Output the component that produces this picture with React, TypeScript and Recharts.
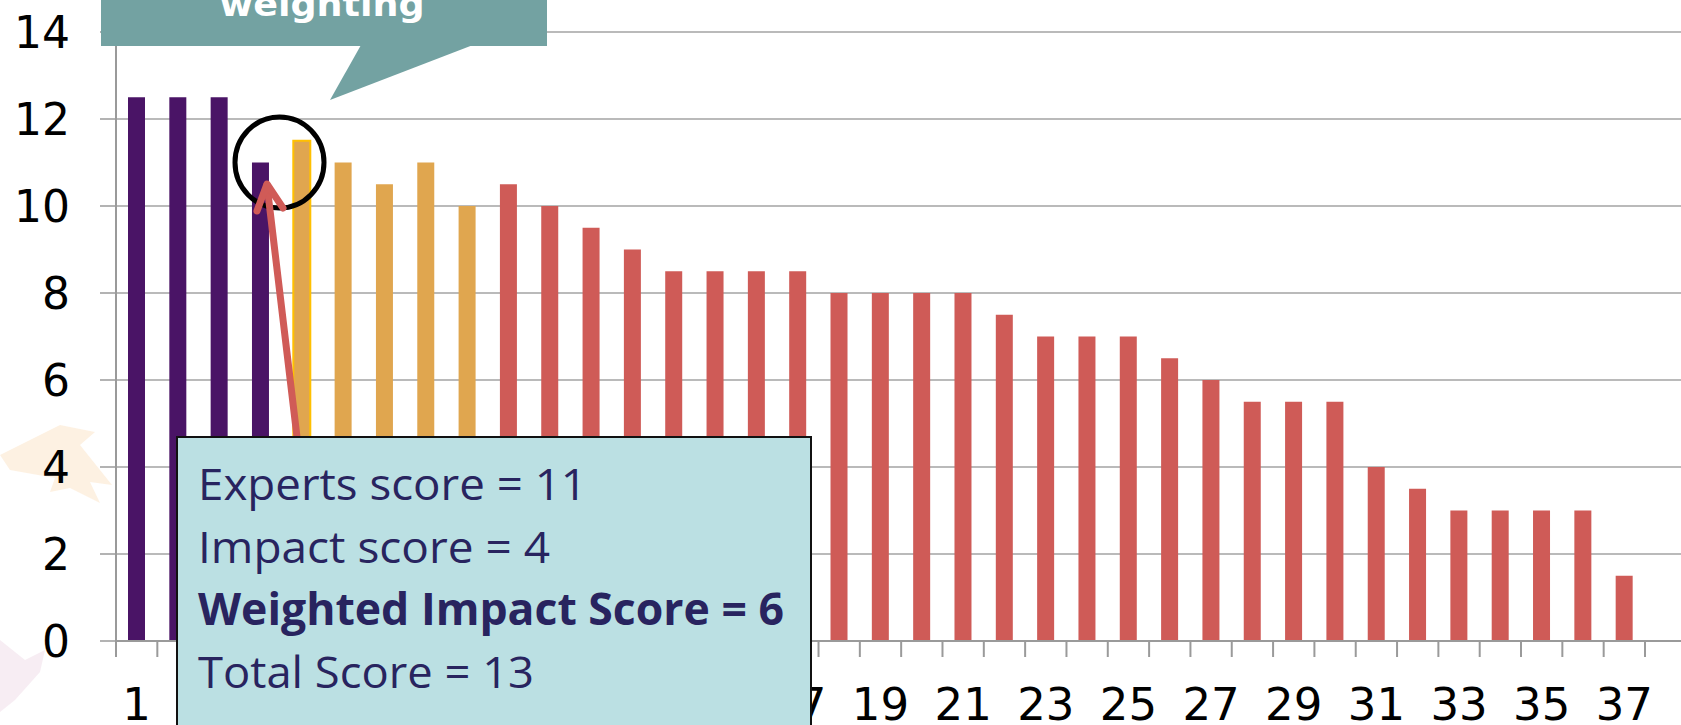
import React from "react";
import { BarChart, Bar, XAxis, YAxis, CartesianGrid, Cell } from "recharts";

// issue rank along the axis
const ranks = [
  "1", "2", "3", "4", "5", "6", "7", "8", "9", "10",
  "11", "12", "13", "14", "15", "16", "17", "18", "19", "20",
  "21", "22", "23", "24", "25", "26", "27", "28", "29", "30",
  "31", "32", "33", "34", "35", "36", "37",
];

// total score of each issue
const scores = [
  12.5, 12.5, 12.5, 11, 11.5, 11, 10.5, 11, 10, 10.5,
  10, 9.5, 9, 8.5, 8.5, 8.5, 8.5, 8, 8, 8,
  8, 7.5, 7, 7, 7, 6.5, 6, 5.5, 5.5, 5.5,
  4, 3.5, 3, 3, 3, 3, 1.5,
];

// which band each issue falls in
const tiers = [
  "top", "top", "top", "top", "mid", "mid", "mid", "mid", "mid", "low",
  "low", "low", "low", "low", "low", "low", "low", "low", "low", "low",
  "low", "low", "low", "low", "low", "low", "low", "low", "low", "low",
  "low", "low", "low", "low", "low", "low", "low",
];

const yTicks = [0, 2, 4, 6, 8, 10, 12, 14];
const highlighted = "5";

const infoLines = [
  { text: "Experts score = 11", bold: false, width: 389 },
  { text: "Impact score = 4", bold: false, width: 352 },
  { text: "Weighted Impact Score = 6", bold: true, width: 586 },
  { text: "Total Score = 13", bold: false, width: 336 },
];

const tierColors: Record<string, string> = {
  top: "#4A1466",
  mid: "#E0A64F",
  low: "#CF5B57",
};

const data = ranks.map((r, i) => ({ rank: r, score: scores[i], tier: tiers[i] }));

const W = 1700;
const H = 725;
const LEFT = 116;
const RIGHT = 14;
const PAD_RIGHT = 41;
const BAND = (W - LEFT - RIGHT - PAD_RIGHT) / ranks.length;
const AXIS_GREY = "#9a9a9a";

const XTick = (props: any) => {
  const { x, y, payload, index } = props;
  const left = x - BAND / 2;
  const n = Number(payload.value);
  return (
    <g>
      <line x1={left} x2={left} y1={y} y2={y + 16} stroke={AXIS_GREY} strokeWidth={2} />
      {index === ranks.length - 1 && (
        <line x1={left + BAND} x2={left + BAND} y1={y} y2={y + 16} stroke={AXIS_GREY} strokeWidth={2} />
      )}
      {n % 2 === 1 && (
        <text x={x} y={y + 79} textAnchor="middle" fontSize={45} fill="#000" fontFamily="DejaVu Sans">
          {payload.value}
        </text>
      )}
    </g>
  );
};

const Overlay = () => (
  <svg width={1681} height={725} style={{ position: "absolute", left: 0, top: 0, pointerEvents: "none" }}>
    {/* callout */}
    <rect x={101} y={-20} width={446} height={66} fill="#73A2A2" />
    <polygon points="361,45 473,45 330,100" fill="#73A2A2" />
    <text x={322} y={16} textAnchor="middle" fontSize={34} fontWeight="bold" fill="#fff"
      fontFamily="DejaVu Sans" textLength={205} lengthAdjust="spacingAndGlyphs">
      weighting
    </text>
    {/* circle round bar 4 */}
    <ellipse cx={279.5} cy={162.5} rx={44.5} ry={45.5} fill="none" stroke="#000" strokeWidth={5} />
    {/* arrow */}
    <g stroke="#D05B57" strokeWidth={7} strokeLinecap="round" strokeLinejoin="round" fill="none">
      <line x1={297} y1={437} x2={267} y2={185} />
      <polyline points="257,211 267,184 283,208" />
    </g>
    {/* info box */}
    <rect x={177} y={437} width={634} height={300} fill="#BBE0E3" stroke="#111" strokeWidth={2} />
    {infoLines.map((l, i) => (
      <text key={l.text} x={198} y={500 + i * 62.5} fontSize={44} fill="#28245F"
        fontWeight={l.bold ? "bold" : "normal"} fontFamily="Open Sans"
        textLength={l.width} lengthAdjust="spacingAndGlyphs">
        {l.text}
      </text>
    ))}
  </svg>
);

const Watermark = () => (
  <svg width={130} height={725} style={{ position: "absolute", left: 0, top: 0, pointerEvents: "none" }}>
    <polygon points="0,455 30,440 60,425 95,432 80,445 112,485 90,482 100,503 70,488 50,492 55,478 10,470"
      fill="#FCEBD6" opacity={0.7} />
    <polygon points="0,640 25,660 45,650 40,672 15,700 0,712" fill="#F3E6EE" opacity={0.7} />
  </svg>
);

export default function App() {
  return (
    <div style={{ position: "absolute", left: 0, top: 0, width: 1681, height: 725, overflow: "hidden", background: "#fff" }}>
      <Watermark />
      <div style={{ position: "absolute", left: 0, top: 0 }}>
        <BarChart width={W} height={H} data={data} margin={{ top: 32, right: RIGHT, left: 0, bottom: 0 }}>
          <CartesianGrid vertical={false} stroke="#a3a3a3" strokeWidth={1.5} />
          <XAxis
            dataKey="rank"
            height={84}
            interval={0}
            padding={{ left: 0, right: PAD_RIGHT }}
            tickSize={0}
            tickMargin={0}
            tickLine={false}
            axisLine={{ stroke: AXIS_GREY, strokeWidth: 2 }}
            tick={<XTick />}
          />
          <YAxis
            domain={[0, 14]}
            ticks={yTicks}
            width={LEFT}
            tickSize={16}
            tickMargin={30}
            axisLine={{ stroke: AXIS_GREY, strokeWidth: 2 }}
            tickLine={{ stroke: AXIS_GREY, strokeWidth: 1.5 }}
            tick={{ fontSize: 44, fill: "#000", fontFamily: "DejaVu Sans" }}
          />
          <Bar dataKey="score" barSize={17} isAnimationActive={false}>
            {data.map((d) => (
              <Cell
                key={d.rank}
                fill={tierColors[d.tier]}
                stroke={d.rank === highlighted ? "#FFC000" : "none"}
                strokeWidth={d.rank === highlighted ? 2 : 0}
              />
            ))}
          </Bar>
        </BarChart>
      </div>
      <Overlay />
    </div>
  );
}
